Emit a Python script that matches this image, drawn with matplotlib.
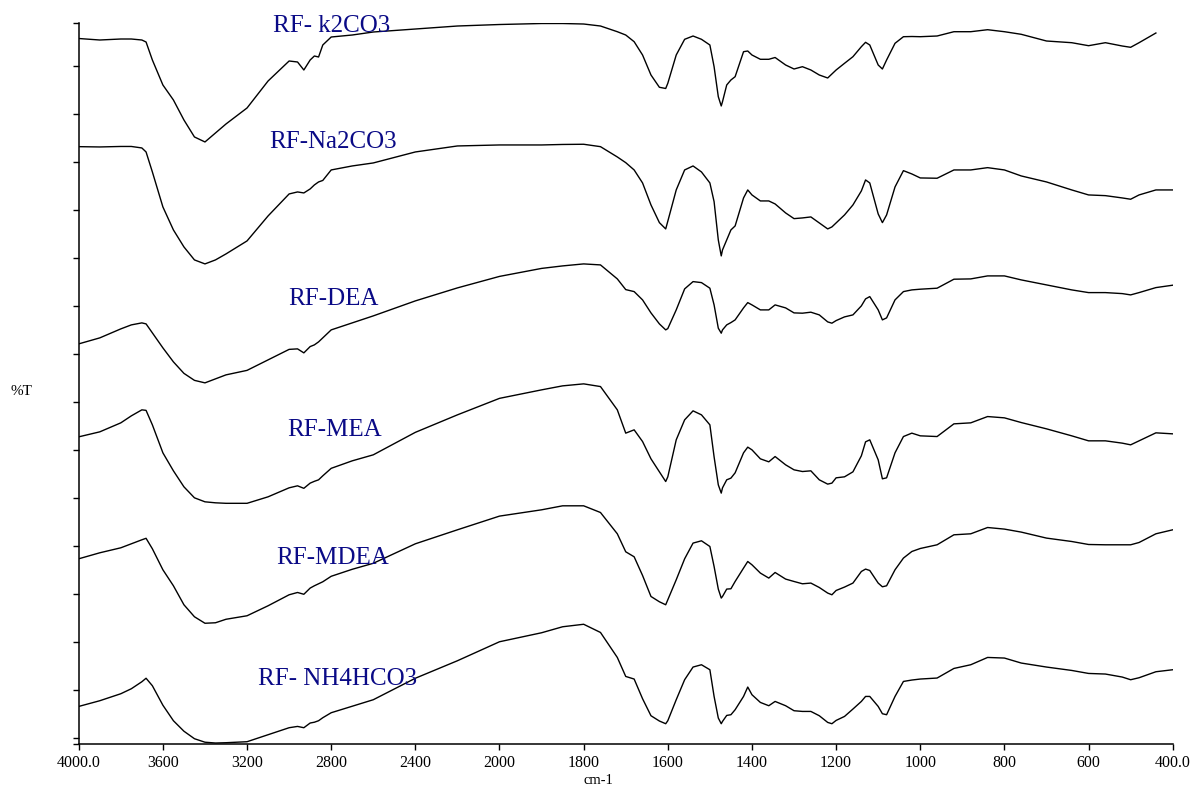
import numpy as np
import matplotlib
matplotlib.use("Agg")
import matplotlib.pyplot as plt
from matplotlib.ticker import FixedLocator, FixedFormatter, NullLocator

plt.rcParams['font.family'] = ['Liberation Serif', 'DejaVu Serif']

# wavenumber grid (cm-1)
wn = [4000, 3900, 3800, 3750, 3700, 3680, 3650, 3600, 3550, 3500, 3450, 3400,
      3350, 3300, 3200, 3100, 3000, 2960, 2930, 2900, 2880, 2860, 2840, 2800,
      2700, 2600, 2400, 2200, 2000, 1900, 1850, 1800, 1760, 1720, 1700, 1680,
      1660, 1640, 1620, 1605, 1600, 1580, 1560, 1540, 1520, 1500, 1490, 1480,
      1473, 1470, 1460, 1450, 1440, 1420, 1410, 1400, 1380, 1360, 1345, 1320,
      1300, 1280, 1260, 1240, 1220, 1210, 1200, 1180, 1160, 1140, 1130, 1120,
      1100, 1090, 1080, 1060, 1040, 1020, 1000, 960, 920, 880, 840, 800,
      760, 700, 640, 600, 560, 520, 500, 480, 440, 400]

# stacked %T traces (arbitrary offset units)
t_k2co3 = [705.5, 704, 705, 705, 704, 702, 684, 659, 644, 624, 607, 602,
           611, 620, 636, 663, 683, 682, 674, 684, 688, 687, 699, 707,
           709, 712, 715, 718, 719.5, 720.5, 720.5, 720, 718, 712.3, 709, 702.3,
           689, 669, 656.7, 655.5, 660.7, 689, 704.7, 708, 704.7, 699, 677.3, 647.3,
           638, 642.3, 659, 664, 667.3, 692.3, 693, 689, 684.7, 684.7, 686.5, 679,
           675, 677.3, 674, 669, 666, 670, 674, 680.7, 687.3, 697.3, 701.7, 699,
           679, 675, 684, 700.7, 707.3, 707.5, 707.3, 708, 712.3, 712.3, 714.3, 712.3,
           709.7, 703, 701.3, 698.3, 701.3, 698, 696.7, 701.3, 711, np.nan]

t_na2co3 = [597.3, 597, 597.5, 597.5, 596, 592, 572, 537, 514, 497, 484, 480,
            484, 490, 503, 528, 550, 552, 551, 555, 559, 562, 563.5, 574,
            578, 581, 592, 598, 599, 599, 599.5, 599.7, 597.3, 587, 581.3, 574,
            561, 539, 521.3, 515, 522.7, 554, 574, 578, 572, 561, 542.3, 504,
            488, 494, 504, 514, 518, 546, 554, 549, 543, 543, 540, 531,
            525.3, 526, 527, 521, 515, 517, 521, 529, 539, 553, 564, 561,
            530, 521.3, 529, 557, 573.3, 570, 566, 565.7, 574, 574, 576.3, 574,
            568, 562, 554, 549, 548.3, 546, 544.7, 549, 554, 554]

t_dea = [400, 406, 415, 419, 421, 420, 411, 396, 382, 370.5, 363.5, 361,
         365, 369, 373.5, 384, 394.5, 395, 391, 397.3, 399, 402, 406, 414,
         421, 428, 443, 456, 467.5, 475.5, 478, 480, 479, 465, 454.3, 452.3,
         444, 431, 420, 414, 415.3, 434, 455, 462.3, 461.3, 455.7, 439, 415.7,
         410.7, 414, 419, 421.3, 424, 436, 441.3, 439, 434, 434, 439, 436,
         431, 430.7, 431.7, 429, 422, 420.7, 423.3, 427, 429, 438, 445, 447.3,
         434, 424, 426, 444, 452.3, 454, 454.7, 455.7, 464.7, 465, 468, 468,
         464, 459, 454, 451.3, 451.3, 450.3, 449, 451.3, 456.3, 458.7]

t_mea = [307, 312, 321, 328, 334, 333.5, 319, 291, 273, 257, 246, 242,
         241, 240.5, 240.5, 247, 256, 258, 255.5, 260.7, 262.5, 264, 268, 275.5,
         283, 289, 311.5, 329, 345.5, 354, 358, 360, 357.3, 334, 310.7, 314,
         302.3, 285, 272, 262.3, 267, 304, 324, 333, 329, 319, 287, 259,
         250.7, 256, 264, 265.7, 271, 291, 296.7, 294, 285, 282, 287.3, 279,
         274, 272.3, 273, 264, 259.7, 260.7, 266, 267, 272, 288, 302, 304,
         284, 265, 266, 291, 307.3, 310.7, 308, 307.3, 320, 321, 327.3, 326,
         321.3, 315, 308, 303, 303, 300.7, 299, 303, 311, 310]

t_mdea = [185, 191, 196, 200, 204, 205.5, 195, 174, 158, 139, 127, 120.5,
          121, 124.5, 128, 138, 149, 151.3, 149.5, 155.7, 158, 160, 162, 167.5,
          174.5, 180.5, 200, 214, 227.7, 234, 238, 238, 231.3, 210, 192, 187,
          168.3, 147.3, 142, 139, 144, 164, 185, 200.7, 203, 197.3, 177.3, 154.7,
          145.7, 147.3, 154.7, 155, 162.3, 175.7, 182.3, 179, 170.7, 165.7, 171.3, 164.7,
          162.3, 160, 160.7, 156.3, 150.7, 149, 153.3, 156.7, 160.7, 172.3, 174.7, 173.3,
          160.7, 157, 158, 174, 185.7, 192.3, 195.3, 199, 209, 210, 216.3, 214.7,
          211.7, 205.7, 202.3, 199.3, 199, 199, 199, 201.3, 210, 214]

t_nh4hco3 = [37.3, 43, 50, 55, 62, 65.5, 58, 38.5, 23, 12.5, 5, 1.5,
             0.7, 1, 2, 9, 16, 17.3, 16, 20.7, 21.5, 23, 26, 31,
             37.5, 44, 65.5, 83, 102, 111, 117, 119.5, 111.3, 86.3, 67.3, 64.7,
             45, 28, 22.7, 20, 23, 44, 64, 76.7, 79, 74, 47.3, 25.7,
             20, 22.3, 28.3, 29, 34, 47.3, 56.7, 49, 41.3, 38, 42.3, 38,
             33, 32.3, 32.3, 28, 21.3, 20, 23.3, 27.3, 34.7, 42.3, 47.3, 47.3,
             37.3, 30, 29, 47.3, 62.3, 63.7, 64.7, 65.7, 75.3, 79, 86.3, 85.7,
             80.7, 76.7, 73.3, 70.3, 69.7, 66.7, 64, 66, 72, 74]

series = [t_k2co3, t_na2co3, t_dea, t_mea, t_mdea, t_nh4hco3]
names = ['RF- k2CO3', 'RF-Na2CO3', 'RF-DEA', 'RF-MEA', 'RF-MDEA', 'RF- NH4HCO3']
# label anchor (wavenumber, level)
label_wn = [3077, 3093, 3003, 3010, 3061, 3146]
label_lv = [712, 596, 439, 308, 180, 59]

xticks = [4000, 3600, 3200, 2800, 2400, 2000, 1800, 1600, 1400, 1200, 1000, 800, 600, 400]
xtick_labels = ['4000.0', '3600', '3200', '2800', '2400', '2000', '1800', '1600',
                '1400', '1200', '1000', '800', '600', '400.0']
yticks = [0, 6, 54, 102, 150, 198, 246, 294, 342, 390, 438, 486, 534, 582, 630, 678, 721]


# spectrometer style axis: half scale above 2000 cm-1
def fwd(w):
    w = np.asarray(w, dtype=float)
    return np.where(w >= 2000, 2000 + (w - 2000) / 2, w)


def inv(u):
    u = np.asarray(u, dtype=float)
    return np.where(u >= 2000, 2000 + (u - 2000) * 2, u)


fig = plt.figure(figsize=(11.93, 7.88), dpi=100)
ax = fig.add_axes([0.066, 0.0562, 0.917, 0.9146])
ax.set_xscale('function', functions=(fwd, inv))

for t in series:
    ax.plot(wn, t, color='black', lw=1.0)

for name, lx, ly in zip(names, label_wn, label_lv):
    ax.text(lx, ly, name, color='#0a0a86', fontsize=18, ha='left', va='baseline')

ax.set_xlim(4000, 400)
ax.set_ylim(0, 721)

ax.xaxis.set_major_locator(FixedLocator(xticks))
ax.xaxis.set_major_formatter(FixedFormatter(xtick_labels))
ax.xaxis.set_minor_locator(NullLocator())
ax.yaxis.set_major_locator(FixedLocator(yticks))
ax.yaxis.set_minor_locator(NullLocator())
ax.tick_params(axis='both', direction='out', length=4, width=1, labelsize=11.5, pad=4)
ax.tick_params(axis='y', labelleft=False)

for s in ['top', 'right']:
    ax.spines[s].set_visible(False)
for s in ['left', 'bottom']:
    ax.spines[s].set_linewidth(1.1)

fig.text(21 / 1193, 1 - 392 / 788, '%T', fontsize=11, ha='center', va='center')
fig.text(598 / 1193, 1 - 781 / 788, 'cm-1', fontsize=10.5, ha='center', va='center')

fig.savefig('out.png', dpi=100)
